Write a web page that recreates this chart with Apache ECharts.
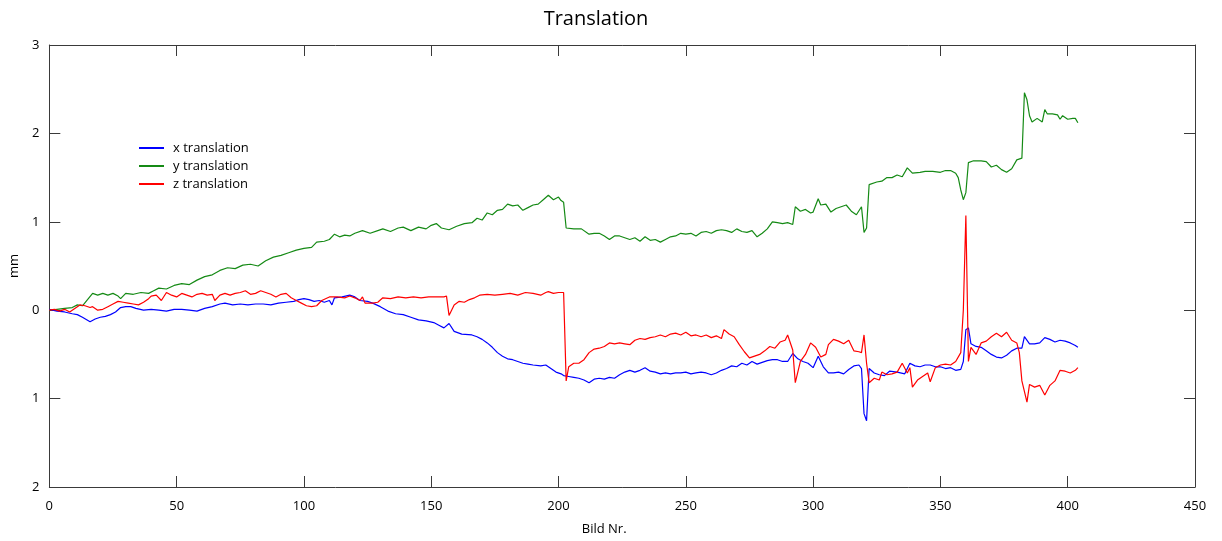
<!DOCTYPE html>
<html>
<head>
<meta charset="utf-8">
<title>Translation</title>
<script src="https://cdn.jsdelivr.net/npm/echarts@6/dist/echarts.min.js"></script>
<style>
  html, body { margin: 0; padding: 0; background: #fff; }
  #chart { width: 1222px; height: 541px; }
</style>
</head>
<body>
<div id="chart"></div>
<script>
// Motion-correction translation per frame (mm), pairs of [frame, value]
const xTranslation = [
  [0,0.01],[3,-0.01],[6,-0.02],[9,-0.04],[11,-0.05],[13,-0.08],[16,-0.13],[18,-0.1],[20,-0.08],[22,-0.07],
  [24,-0.05],[26,-0.02],[28,0.03],[30,0.04],[32,0.04],[34,0.02],[37,0.0],[40,0.01],[43,0.0],[46,-0.01],
  [49,0.01],[52,0.01],[55,0.0],[58,-0.01],[61,0.02],[64,0.04],[67,0.07],[69,0.08],[72,0.06],[75,0.07],
  [78,0.06],[81,0.07],[84,0.07],[87,0.06],[90,0.08],[93,0.09],[96,0.1],[98,0.12],[100,0.13],[102,0.12],
  [104,0.1],[106,0.11],[108,0.09],[110,0.11],[111,0.06],[112,0.14],[115,0.15],[118,0.17],[120,0.15],[122,0.11],
  [125,0.1],[127,0.08],[130,0.04],[133,-0.01],[136,-0.04],[139,-0.05],[142,-0.08],[145,-0.11],[148,-0.12],[151,-0.14],
  [153,-0.17],[155,-0.2],[157,-0.15],[159,-0.24],[162,-0.27],[166,-0.28],[168,-0.3],[170,-0.33],[172,-0.37],[174,-0.42],
  [176,-0.48],[178,-0.52],[180,-0.55],[182,-0.56],[184,-0.58],[186,-0.6],[188,-0.61],[190,-0.62],[193,-0.63],[195,-0.62],
  [197,-0.66],[199,-0.7],[201,-0.72],[202,-0.74],[204,-0.75],[206,-0.76],[208,-0.77],[210,-0.79],[212,-0.82],[214,-0.78],
  [216,-0.77],[218,-0.78],[220,-0.76],[222,-0.77],[224,-0.73],[226,-0.7],[228,-0.68],[230,-0.7],[232,-0.68],[234,-0.65],
  [236,-0.69],[238,-0.7],[240,-0.72],[242,-0.71],[244,-0.72],[246,-0.71],[248,-0.71],[250,-0.7],[252,-0.72],[254,-0.71],
  [256,-0.7],[258,-0.71],[260,-0.73],[262,-0.71],[264,-0.68],[266,-0.66],[268,-0.63],[270,-0.64],[272,-0.6],[274,-0.62],
  [276,-0.58],[278,-0.61],[280,-0.59],[282,-0.57],[284,-0.56],[286,-0.56],[288,-0.58],[290,-0.58],[292,-0.49],[294,-0.55],
  [296,-0.58],[298,-0.6],[300,-0.65],[302,-0.52],[304,-0.64],[306,-0.71],[308,-0.71],[310,-0.7],[312,-0.72],[314,-0.67],
  [316,-0.63],[318,-0.62],[319,-0.66],[320,-1.17],[321,-1.25],[322,-0.66],[324,-0.71],[326,-0.73],[328,-0.74],[330,-0.69],
  [333,-0.7],[336,-0.72],[338,-0.6],[340,-0.63],[342,-0.64],[344,-0.62],[346,-0.62],[348,-0.64],[350,-0.64],[352,-0.66],
  [354,-0.65],[356,-0.68],[358,-0.67],[359,-0.58],[360,-0.22],[361,-0.2],[362,-0.38],[364,-0.41],[366,-0.42],[368,-0.46],
  [370,-0.5],[372,-0.53],[374,-0.54],[376,-0.51],[378,-0.46],[380,-0.43],[382,-0.43],[383,-0.3],[385,-0.38],[387,-0.38],
  [389,-0.37],[391,-0.31],[393,-0.33],[395,-0.36],[397,-0.34],[399,-0.35],[401,-0.37],[403,-0.4],[404,-0.42]
];

const yTranslation = [
  [0,0],[3,0.01],[6,0.02],[9,0.03],[11,0.06],[13,0.05],[15,0.12],[17,0.19],[19,0.17],[21,0.19],
  [23,0.17],[25,0.19],[27,0.16],[28,0.13],[30,0.19],[33,0.18],[36,0.2],[39,0.19],[41,0.22],[43,0.25],
  [46,0.24],[49,0.28],[52,0.3],[55,0.29],[58,0.34],[61,0.38],[64,0.4],[67,0.45],[70,0.48],[73,0.47],
  [76,0.51],[79,0.52],[82,0.5],[85,0.56],[88,0.6],[91,0.62],[94,0.65],[97,0.68],[100,0.7],[103,0.71],
  [105,0.77],[108,0.78],[110,0.8],[112,0.86],[114,0.83],[116,0.85],[118,0.84],[120,0.87],[123,0.9],[126,0.87],
  [129,0.9],[131,0.92],[134,0.89],[137,0.93],[139,0.94],[142,0.9],[145,0.94],[148,0.92],[150,0.96],[152,0.98],
  [154,0.93],[157,0.91],[160,0.95],[163,0.98],[166,0.99],[168,1.04],[170,1.02],[172,1.1],[174,1.08],[176,1.13],
  [178,1.14],[180,1.2],[182,1.18],[184,1.19],[186,1.13],[188,1.16],[190,1.19],[192,1.2],[194,1.25],[196,1.3],
  [198,1.25],[200,1.28],[201,1.24],[202,1.22],[203,0.93],[206,0.92],[209,0.92],[212,0.86],[214,0.87],[216,0.87],
  [218,0.84],[220,0.8],[222,0.84],[224,0.84],[226,0.82],[228,0.8],[230,0.82],[232,0.78],[234,0.83],[236,0.79],
  [238,0.8],[240,0.77],[242,0.8],[244,0.83],[246,0.84],[248,0.87],[250,0.86],[252,0.87],[254,0.84],[256,0.88],
  [258,0.89],[260,0.87],[262,0.9],[264,0.91],[266,0.9],[268,0.88],[270,0.92],[272,0.89],[274,0.88],[276,0.9],
  [278,0.83],[280,0.87],[282,0.92],[284,1.0],[286,0.99],[288,0.98],[290,0.99],[292,0.97],[293,1.17],[295,1.12],
  [297,1.14],[299,1.1],[300,1.11],[302,1.26],[303,1.19],[305,1.2],[307,1.11],[309,1.15],[311,1.17],[313,1.19],
  [315,1.12],[317,1.08],[319,1.17],[320,0.88],[321,0.93],[322,1.42],[325,1.45],[327,1.46],[329,1.5],[331,1.5],
  [333,1.53],[335,1.51],[337,1.61],[339,1.55],[342,1.56],[344,1.57],[347,1.57],[350,1.56],[352,1.58],[354,1.58],
  [356,1.55],[357,1.5],[358,1.36],[359,1.25],[360,1.33],[361,1.67],[363,1.69],[366,1.69],[368,1.68],[370,1.62],
  [372,1.64],[374,1.59],[376,1.56],[378,1.6],[380,1.7],[382,1.72],[383,2.46],[384,2.38],[385,2.2],[386,2.13],
  [388,2.17],[390,2.13],[391,2.27],[392,2.22],[394,2.22],[396,2.21],[397,2.16],[398,2.2],[400,2.16],[402,2.17],
  [403,2.17],[404,2.12]
];

const zTranslation = [
  [0,0],[2,0.01],[4,-0.01],[6,0.01],[8,-0.02],[10,0.02],[12,0.06],[14,0.05],[16,0.03],[17,0.04],
  [19,0.0],[21,0.01],[23,0.04],[25,0.07],[27,0.1],[29,0.09],[31,0.08],[33,0.07],[35,0.06],[37,0.09],
  [39,0.13],[40,0.16],[42,0.17],[44,0.11],[46,0.2],[48,0.17],[50,0.15],[52,0.19],[54,0.17],[56,0.15],
  [58,0.18],[60,0.19],[62,0.17],[64,0.18],[65,0.11],[67,0.17],[69,0.19],[71,0.17],[73,0.19],[75,0.2],
  [77,0.22],[79,0.18],[81,0.19],[83,0.22],[85,0.2],[87,0.18],[89,0.15],[91,0.18],[93,0.19],[95,0.14],
  [97,0.11],[99,0.08],[101,0.05],[103,0.04],[105,0.05],[107,0.11],[110,0.15],[113,0.15],[116,0.14],[118,0.16],
  [120,0.14],[122,0.11],[123,0.15],[124,0.08],[127,0.08],[129,0.09],[131,0.14],[134,0.13],[137,0.15],[140,0.14],
  [143,0.15],[146,0.14],[149,0.15],[152,0.15],[155,0.15],[156,0.16],[157,-0.06],[159,0.06],[161,0.1],[163,0.09],
  [165,0.12],[167,0.14],[169,0.17],[172,0.18],[175,0.17],[178,0.18],[181,0.19],[184,0.17],[187,0.2],[190,0.19],
  [193,0.17],[195,0.2],[196,0.21],[198,0.19],[200,0.2],[202,0.2],[203,-0.8],[204,-0.64],[206,-0.6],[208,-0.6],
  [210,-0.56],[212,-0.48],[214,-0.44],[216,-0.43],[218,-0.41],[220,-0.37],[222,-0.38],[224,-0.37],[226,-0.38],[228,-0.39],
  [230,-0.34],[232,-0.32],[234,-0.33],[236,-0.31],[238,-0.3],[240,-0.28],[242,-0.3],[244,-0.27],[246,-0.26],[248,-0.28],
  [250,-0.25],[252,-0.29],[254,-0.28],[256,-0.3],[258,-0.28],[260,-0.31],[262,-0.29],[264,-0.32],[265,-0.22],[267,-0.27],
  [269,-0.3],[271,-0.39],[273,-0.47],[275,-0.54],[277,-0.52],[279,-0.5],[281,-0.46],[283,-0.41],[285,-0.43],[287,-0.36],
  [289,-0.34],[290,-0.28],[292,-0.45],[293,-0.82],[295,-0.58],[297,-0.5],[299,-0.37],[301,-0.42],[303,-0.53],[305,-0.5],
  [306,-0.39],[308,-0.33],[310,-0.35],[312,-0.38],[314,-0.34],[316,-0.46],[318,-0.47],[319,-0.48],[320,-0.28],[321,-0.6],
  [322,-0.82],[324,-0.77],[326,-0.79],[327,-0.7],[329,-0.73],[331,-0.72],[333,-0.7],[335,-0.6],[337,-0.71],[338,-0.65],
  [339,-0.87],[341,-0.79],[343,-0.75],[345,-0.71],[346,-0.81],[348,-0.65],[350,-0.62],[352,-0.61],[354,-0.62],[356,-0.58],
  [358,-0.48],[359,0.0],[360,1.07],[361,-0.58],[362,-0.42],[364,-0.5],[366,-0.37],[368,-0.35],[370,-0.3],[372,-0.26],
  [374,-0.3],[376,-0.25],[378,-0.34],[380,-0.37],[381,-0.48],[382,-0.8],[384,-1.04],[385,-0.84],[387,-0.87],[389,-0.85],
  [391,-0.96],[393,-0.85],[395,-0.8],[397,-0.68],[399,-0.69],[401,-0.71],[403,-0.68],[404,-0.65]
];

const seriesNames = ['x translation', 'y translation', 'z translation'];
const seriesColors = ['#0000ff', '#158a15', '#ff0000'];

// Tick labels on the value axis (printed without sign), for values -2 .. 3
const yTickValues = [-2, -1, 0, 1, 2, 3];
const yTickLabels = ['2', '1', '0', '1', '2', '3'];

const FONT = '"Open Sans", "Noto Sans", sans-serif';
const AXIS_COLOR = '#3a3a3a';

const chart = echarts.init(document.getElementById('chart'), null, { renderer: 'canvas' });

const frameAxisBase = {
  type: 'value', min: 0, max: 450, interval: 50,
  axisLine: { show: true, onZero: false, lineStyle: { color: AXIS_COLOR, width: 1 } },
  axisTick: { show: true, inside: true, length: 11, lineStyle: { color: AXIS_COLOR } },
  splitLine: { show: false }
};
const valueAxisBase = {
  type: 'value', min: -2, max: 3, interval: 1,
  axisLine: { show: true, onZero: false, lineStyle: { color: AXIS_COLOR, width: 1 } },
  axisTick: { show: true, inside: true, length: 11, lineStyle: { color: AXIS_COLOR } },
  splitLine: { show: false }
};

const data = [xTranslation, yTranslation, zTranslation];

chart.setOption({
  animation: false,
  backgroundColor: '#ffffff',
  title: {
    text: 'Translation',
    left: 591, top: 4, textAlign: 'center',
    textStyle: { fontFamily: FONT, fontSize: 20, fontWeight: 'normal', color: '#000' }
  },
  legend: {
    orient: 'vertical', left: 139, top: 141, padding: 0,
    icon: 'rect', itemWidth: 25, itemHeight: 2, itemGap: 4,
    textStyle: { fontFamily: FONT, fontSize: 13, lineHeight: 14, color: '#000', padding: [0, 0, 0, 4] },
    data: seriesNames
  },
  grid: { left: 46, right: 27, top: 45, bottom: 54, containLabel: false },
  xAxis: [
    Object.assign({}, frameAxisBase, {
      position: 'bottom',
      name: 'Bild Nr.', nameLocation: 'middle', nameGap: 36,
      nameTextStyle: { fontFamily: FONT, fontSize: 13, color: '#000', padding: [0, 36, 0, 0] },
      axisLabel: { fontFamily: FONT, fontSize: 13, color: '#000', margin: 13 }
    }),
    Object.assign({}, frameAxisBase, { position: 'top', axisLabel: { show: false } })
  ],
  yAxis: [
    Object.assign({}, valueAxisBase, {
      position: 'left',
      name: 'mm', nameLocation: 'middle', nameGap: 28, nameRotate: 90,
      nameTextStyle: { fontFamily: FONT, fontSize: 13, color: '#000' },
      axisLabel: {
        fontFamily: FONT, fontSize: 13, color: '#000', margin: 10,
        formatter: v => yTickLabels[yTickValues.indexOf(Math.round(v))]
      }
    }),
    Object.assign({}, valueAxisBase, { position: 'right', axisLabel: { show: false } })
  ],
  series: seriesNames.map((name, i) => ({
    name: name,
    type: 'line',
    xAxisIndex: 0, yAxisIndex: 0,
    data: data[i],
    symbol: 'none',
    showSymbol: false,
    lineStyle: { color: seriesColors[i], width: 1.2 },
    itemStyle: { color: seriesColors[i] },
    z: i === 0 ? 3 : (i === 2 ? 4 : 2)
  }))
});
</script>
</body>
</html>
